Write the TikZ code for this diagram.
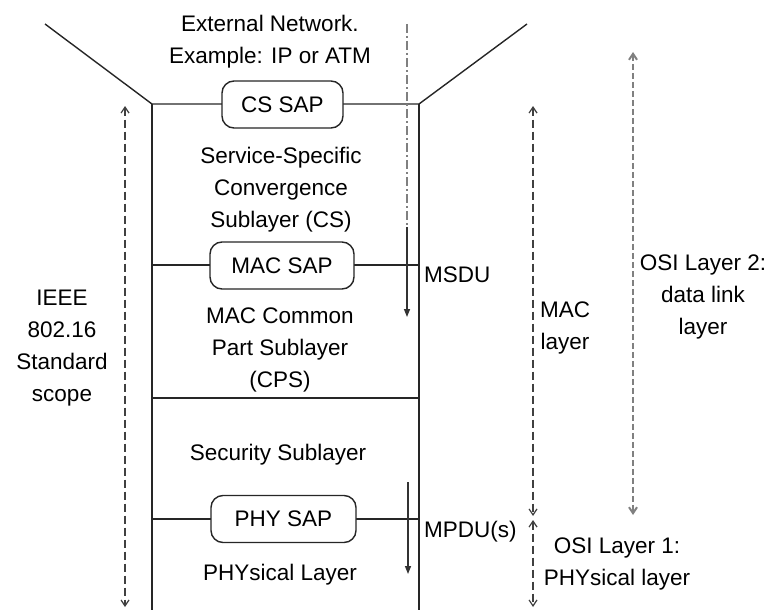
\documentclass[tikz,border=0pt]{standalone}
\usepackage{fontspec}
\setmainfont{Liberation Sans}
\usetikzlibrary{arrows.meta}
\begin{document}
\begin{tikzpicture}[x=1pt,y=-1pt,
  txt/.style={font=\fontsize{22.5}{32}\selectfont, align=center, inner sep=0pt, text=black},
  sap/.style={draw=black!85, line width=1.4pt, rounded corners=12pt, fill=white,
    minimum height=47pt, inner sep=0pt, font=\fontsize{22.5}{32}\selectfont, text=black},
  wall/.style={line width=1.4pt, draw=black!85},
  flow/.style={line width=1.4pt, draw=black!80, -{Triangle[length=8pt,width=6pt]}},
  span/.style={line width=1.2pt, draw=black!75, dash pattern=on 8pt off 4pt,
    {Straight Barb[length=6pt,width=8pt]}-{Straight Barb[length=6pt,width=8pt]}},
  spanwide/.style={line width=2pt, draw=black!50, dash pattern=on 6pt off 3pt,
    {Straight Barb[length=6pt,width=8pt]}-{Straight Barb[length=6pt,width=8pt]}},
]
\useasboundingbox (0,0) rectangle (773,610);

% funnel and stack outline
\coordinate (funL) at (45,24);
\coordinate (funR) at (527,24);
\coordinate (tl) at (152,104);
\coordinate (tr) at (419,104);
\coordinate (bl) at (152,610);
\coordinate (br) at (419,610);
\draw[wall] (funL) -- (tl) -- (tr) -- (funR);
\draw[wall] (tl) -- (bl);
\draw[wall] (tr) -- (br);

% sublayer boundaries
\coordinate (macL) at (152,265);
\coordinate (macR) at (419,265);
\coordinate (cpsL) at (152,398);
\coordinate (cpsR) at (419,398);
\coordinate (phyL) at (152,519);
\coordinate (phyR) at (419,519);
\draw[wall] (macL) -- (macR);
\draw[wall] (cpsL) -- (cpsR);
\draw[wall] (phyL) -- (phyR);

% data flow through the MAC
\coordinate (dataTop) at (407,24);
\coordinate (dataMid) at (407,227);
\coordinate (dataEnd) at (407,317);
\draw[line width=2pt, draw=black!50, dash pattern=on 9pt off 3pt on 2pt off 3pt] (dataTop) -- (dataMid);
\draw[flow] (dataMid) -- (dataEnd);
\coordinate (pduTop) at (408,482);
\coordinate (pduEnd) at (408,574);
\draw[flow] (pduTop) -- (pduEnd);

% service access points
\node[sap, minimum width=121pt] (cssap) at (282.5,104.5) {CS SAP};
\node[sap, minimum width=144pt] (macsap) at (282,265.5) {MAC SAP};
\node[sap, minimum width=145pt] (physap) at (283.5,519) {PHY SAP};

% layer texts
\node[txt] (ext) at (270,41.5) {External Network.\\Example: IP or ATM};
\node[txt] (cs) at (281,189.5) {Service-Specific\\Convergence\\Sublayer (CS)};
\node[txt] (cps) at (280,349.5) {MAC Common\\Part Sublayer\\(CPS)};
\node[txt] (sec) at (278,455) {Security Sublayer};
\node[txt] (phy) at (280,575) {PHYsical Layer};
\node[txt, anchor=west] (msdu) at (424,275) {MSDU};
\node[txt, anchor=west] (mpdu) at (424,532) {MPDU(s)};

% scope markers
\coordinate (stdTop) at (125,106);
\coordinate (stdBot) at (125,607);
\draw[span] (stdTop) -- (stdBot);
\node[txt] (ieee) at (62,348) {IEEE\\802.16\\Standard\\scope};

\coordinate (macTop) at (533,106);
\coordinate (macBot) at (533,516);
\coordinate (l1Top) at (533,520);
\coordinate (l1Bot) at (533,607);
\draw[span] (macTop) -- (macBot);
\draw[span] (l1Top) -- (l1Bot);
\node[txt] (maclayer) at (565,328) {MAC\\layer};

\coordinate (osiTop) at (633,52);
\coordinate (osiBot) at (633,515);
\draw[spanwide] (osiTop) -- (osiBot);
\node[txt] (osi2) at (703,297) {OSI Layer 2:\\data link\\layer};
\node[txt] (osi1) at (617,564) {OSI Layer 1:\\PHYsical layer};
\end{tikzpicture}
\end{document}
